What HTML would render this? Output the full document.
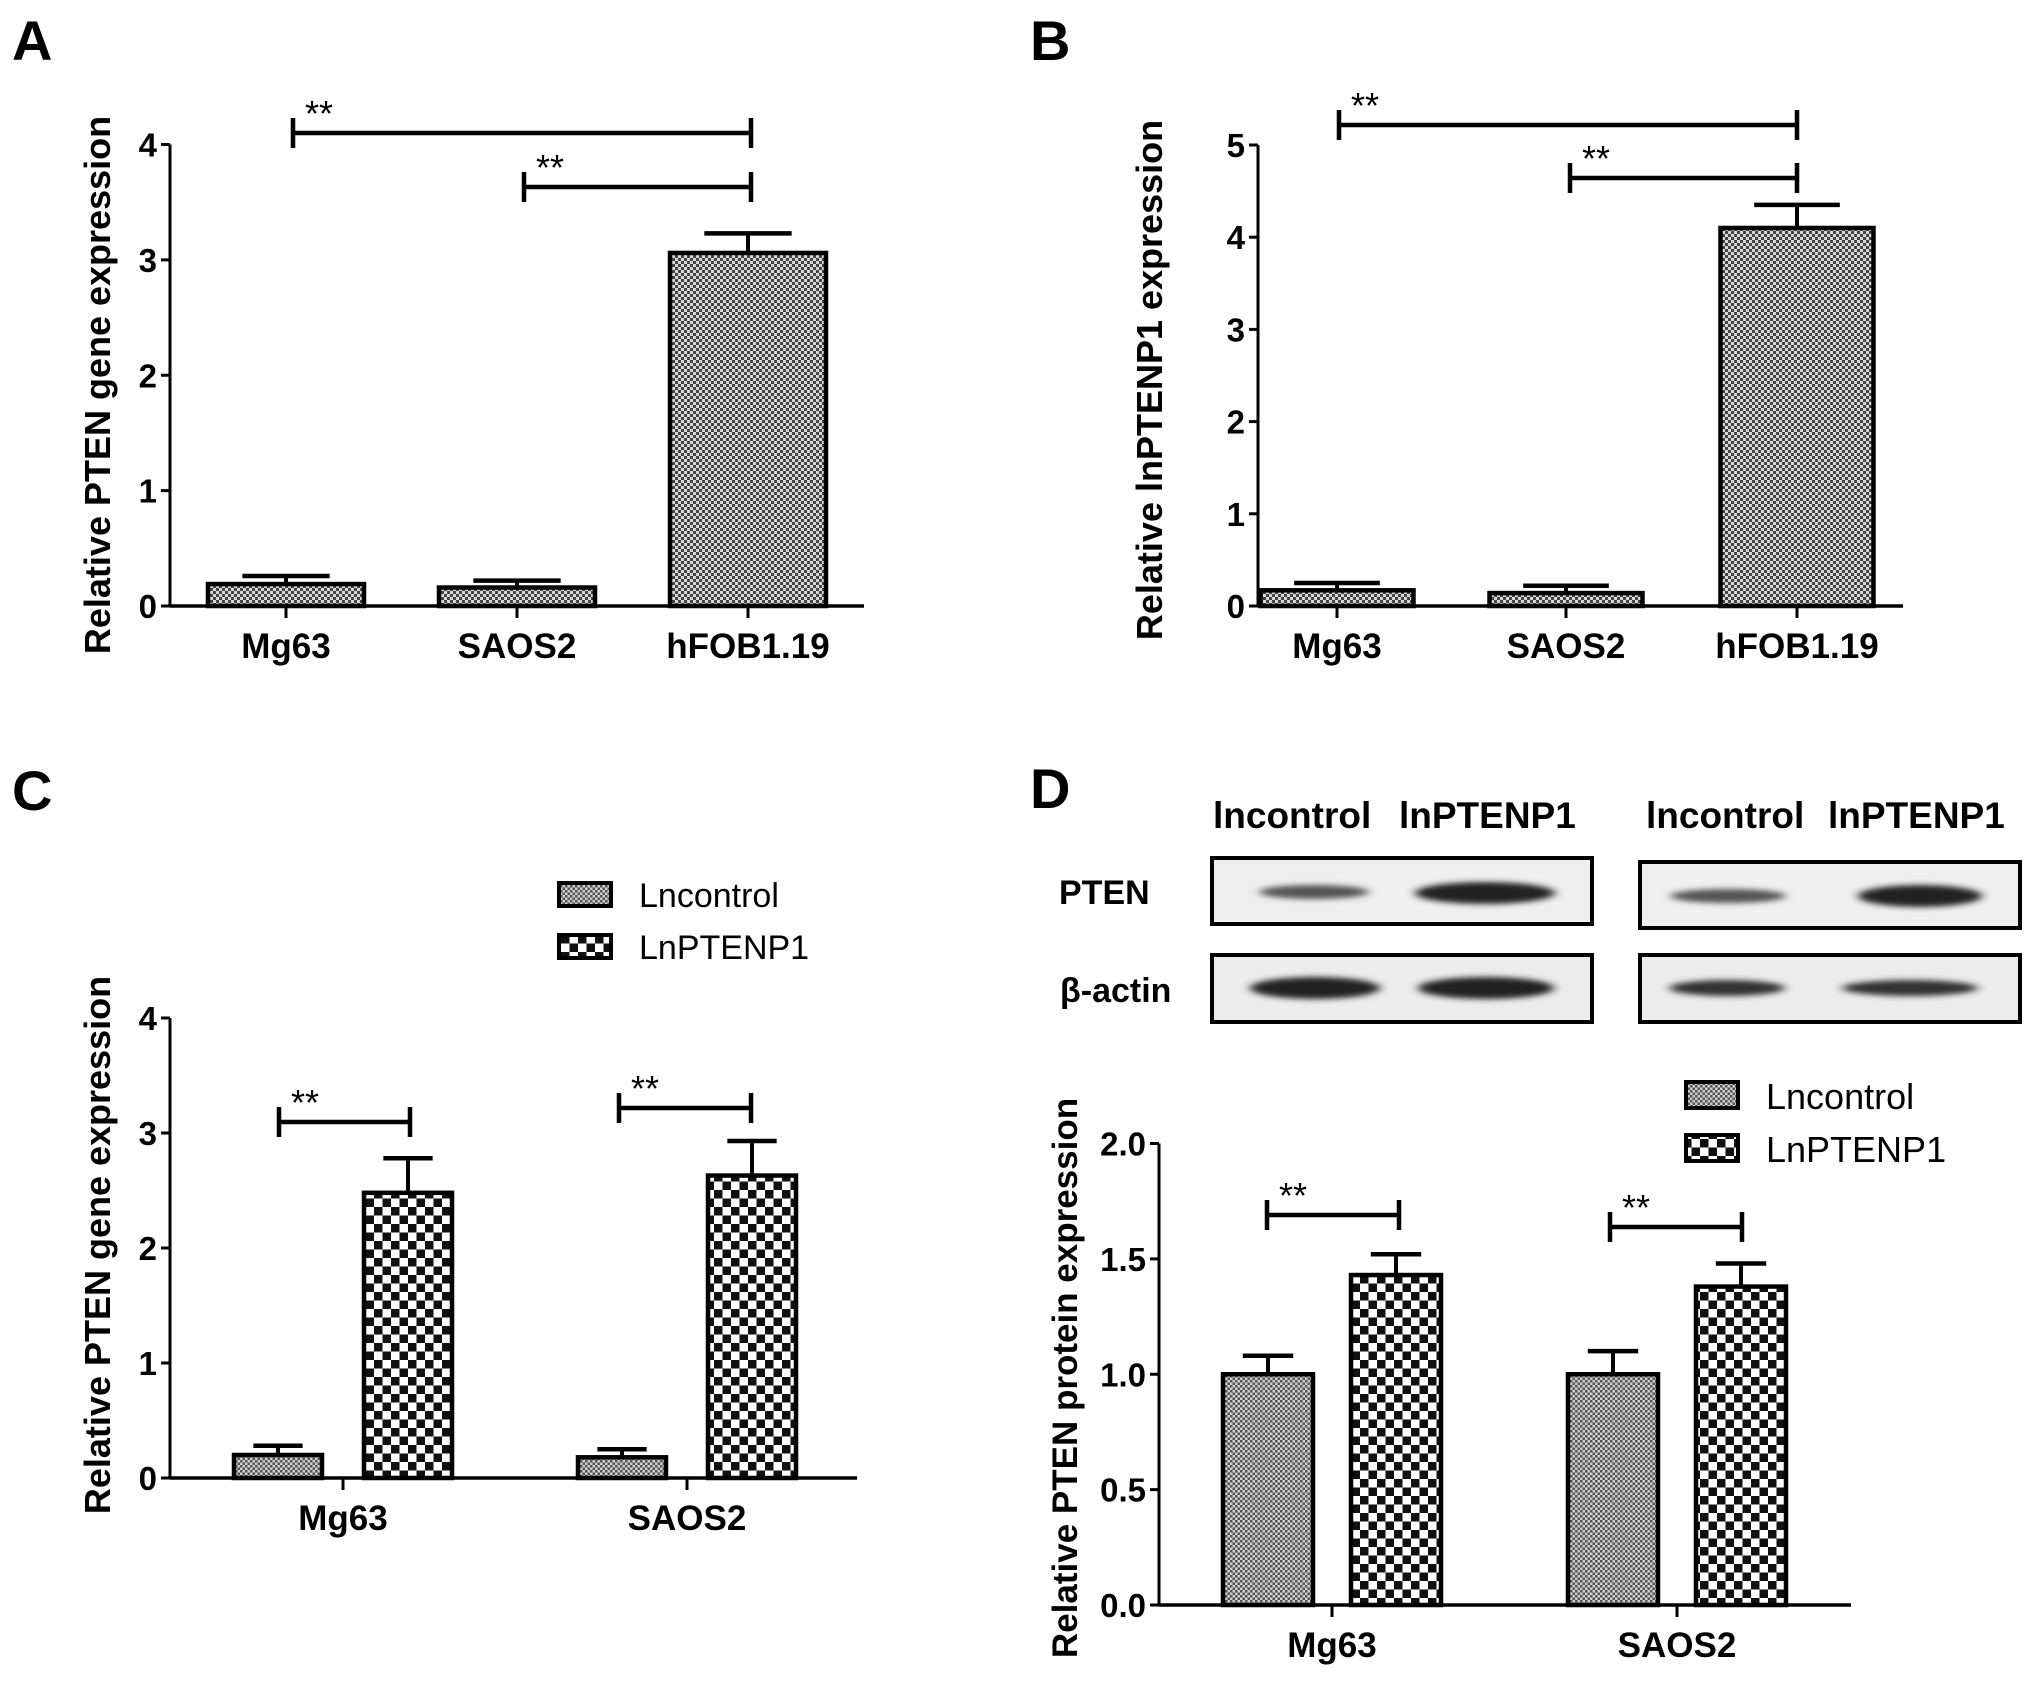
<!DOCTYPE html>
<html><head><meta charset="utf-8"><style>
html,body{margin:0;padding:0;background:#fff;}
svg{display:block;font-family:"Liberation Sans",Arial,sans-serif;}
.b{font-weight:bold;}
</style></head><body>
<svg id="fig" width="2031" height="1683" viewBox="0 0 2031 1683" xmlns="http://www.w3.org/2000/svg">
<defs>
<pattern id="fine" width="6" height="6" patternUnits="userSpaceOnUse">
<rect width="6" height="6" fill="#d8d8d8"/><rect width="3" height="3" fill="#444"/><rect x="3" y="3" width="3" height="3" fill="#444"/>
</pattern>
<pattern id="fine2" width="5" height="5" patternUnits="userSpaceOnUse">
<rect width="5" height="5" fill="#cfcfcf"/><rect width="2.5" height="2.5" fill="#555"/><rect x="2.5" y="2.5" width="2.5" height="2.5" fill="#555"/>
</pattern>
<pattern id="coarse" width="17" height="17" patternUnits="userSpaceOnUse">
<rect width="17" height="17" fill="#fff"/><rect width="8.5" height="8.5" fill="#111"/><rect x="8.5" y="8.5" width="8.5" height="8.5" fill="#111"/>
</pattern>
<filter id="blur"><feGaussianBlur stdDeviation="5 3"/></filter>
</defs>
<g id="panelA"></g>
<g id="panelB"></g>
<g id="panelC"></g>
<g id="panelD"></g>
<g id="blot">
<text x="1213" y="828" class="b" font-size="37">lncontrol</text>
<text x="1399" y="828" class="b" font-size="37">lnPTENP1</text>
<text x="1646" y="828" class="b" font-size="37">lncontrol</text>
<text x="1828" y="828" class="b" font-size="37">lnPTENP1</text>
<text x="1059" y="904" class="b" font-size="34">PTEN</text>
<text x="1060" y="1002" class="b" font-size="34">β-actin</text>
<rect x="1212" y="858" width="380" height="66" fill="#efefef" stroke="#000" stroke-width="4"/>
<rect x="1640" y="862" width="380" height="66" fill="#efefef" stroke="#000" stroke-width="4"/>
<rect x="1212" y="955" width="380" height="67" fill="#ececec" stroke="#000" stroke-width="4"/>
<rect x="1640" y="955" width="380" height="67" fill="#ececec" stroke="#000" stroke-width="4"/>
<g filter="url(#blur)">
<ellipse cx="1314" cy="892" rx="55" ry="7" fill="#555"/>
<ellipse cx="1485" cy="893" rx="70" ry="11" fill="#222"/>
<ellipse cx="1728" cy="896" rx="58" ry="7" fill="#555"/>
<ellipse cx="1920" cy="896" rx="62" ry="11" fill="#222"/>
<ellipse cx="1315" cy="988" rx="65" ry="11" fill="#222"/>
<ellipse cx="1486" cy="988" rx="68" ry="11" fill="#222"/>
<ellipse cx="1727" cy="988" rx="58" ry="8" fill="#333"/>
<ellipse cx="1910" cy="988" rx="68" ry="8" fill="#333"/>
</g>
</g>
</svg>
<script>
// Panel A data
const catsA = ["Mg63","SAOS2","hFOB1.19"];
const valsA = [0.19, 0.16, 3.06];
const errA = [0.07, 0.06, 0.17];
const ticksA = [0,1,2,3,4];
// Panel B data
const catsB = ["Mg63","SAOS2","hFOB1.19"];
const valsB = [0.17, 0.14, 4.1];
const errB = [0.08, 0.08, 0.25];
const ticksB = [0,1,2,3,4,5];
// Panel C data
const catsC = ["Mg63","SAOS2"];
const ctrlC = [0.2, 0.18];
const ctrlErrC = [0.08, 0.07];
const lnC = [2.48, 2.63];
const lnErrC = [0.3, 0.3];
const ticksC = [0,1,2,3,4];
// Panel D data
const catsD = ["Mg63","SAOS2"];
const ctrlD = [1.0, 1.0];
const ctrlErrD = [0.08, 0.10];
const lnD = [1.43, 1.38];
const lnErrD = [0.09, 0.10];
const ticksD = ["0.0","0.5","1.0","1.5","2.0"];
const legendLabels = ["Lncontrol","LnPTENP1"];

const NS="http://www.w3.org/2000/svg";
function mk(parent,tag,attrs,text){const e=document.createElementNS(NS,tag);for(const k in attrs)e.setAttribute(k,attrs[k]);if(text!==undefined)e.textContent=text;parent.appendChild(e);return e;}

function axes(g,cfg){
  const y=v=>cfg.y0-(v-cfg.min)/(cfg.max-cfg.min)*(cfg.y0-cfg.yTop);
  const ax=mk(g,'line',{x1:cfg.ax,y1:cfg.yTop,x2:cfg.ax,y2:cfg.y0,stroke:'#000','stroke-width':3});
  
  
  const xa=mk(g,'line',{x1:cfg.ax,y1:cfg.y0,x2:cfg.xEnd,y2:cfg.y0,stroke:'#000','stroke-width':3.5});
  
  
  cfg.ticks.forEach(t=>{
    const v=parseFloat(t),yy=y(v);
    mk(g,'line',{x1:cfg.ax-9,y1:yy,x2:cfg.ax,y2:yy,stroke:'#000','stroke-width':3});
    const tl=mk(g,'text',{x:cfg.ax-13,y:yy+12,'text-anchor':'end','font-size':33,class:'b'},String(t));
    
    
  });
  const tt=mk(g,'text',{x:0,y:0,transform:`translate(${cfg.titleX},${cfg.titleY}) rotate(-90)`,'text-anchor':'middle','font-size':cfg.titleSize||36,class:'b'},cfg.title);
  
  
  const L=mk(g,'text',{x:cfg.letter[0],y:cfg.letter[1],'font-size':56,class:'b'},cfg.letterText);
  
  
  return y;
}
function bar(g,y,cx,w,v,e,fill,name){
  const b=mk(g,'rect',{x:cx-w/2,y:y(v),width:w,height:y(0)-y(v),fill:fill,stroke:'#000','stroke-width':4.5});
  
  
  mk(g,'line',{x1:cx,y1:y(v),x2:cx,y2:y(v+e),stroke:'#000','stroke-width':4});
  const eb=mk(g,'line',{x1:cx-w*0.28,y1:y(v+e),x2:cx+w*0.28,y2:y(v+e),stroke:'#000','stroke-width':4.5});
  
  
}
function sig(g,x1,x2,yy,name){
  const s=mk(g,'path',{d:`M${x1},${yy-15}V${yy+15}M${x1},${yy}H${x2}M${x2},${yy-15}V${yy+15}`,stroke:'#000','stroke-width':4.5,fill:'none'});
  
  
  const t=mk(g,'text',{x:x1+12,y:yy-7,'font-size':36},'**');
  
  
}
function catLabel(g,x,yy,s,size){
  mk(g,'line',{x1:x,y1:yy-25,x2:x,y2:yy-13,stroke:'#000','stroke-width':3});
  const t=mk(g,'text',{x:x,y:yy+27,'text-anchor':'middle','font-size':size||35,class:'b'},s);
  
  
}
function legend(g,x,y1,y2,w,h,tx,size){
  [[y1,'url(#fine2)'],[y2,'url(#coarse)']].forEach((p,i)=>{
    const r=mk(g,'rect',{x:x,y:p[0],width:w,height:h,fill:p[1],stroke:'#000','stroke-width':4});
    
    
    const t=mk(g,'text',{x:tx,y:p[0]+h+1,'font-size':size},legendLabels[i]);
    
    
  });
}

// Panel A
(function(){
  const g=document.getElementById('panelA');
  const y=axes(g,{ax:170,y0:606,yTop:144.5,min:0,max:4,xEnd:864,ticks:ticksA,title:'Relative PTEN gene expression',titleX:110,titleY:385,letter:[12,60],letterText:'A'});
  const cx=[286,517,748];
  catsA.forEach((c,i)=>{bar(g,y,cx[i],156,valsA[i],errA[i],'url(#fine)','bar-a-'+c.toLowerCase());catLabel(g,cx[i],631,c);});
  sig(g,293,751,133,'sig-a-mg63');
  sig(g,524,751,187,'sig-a-saos2');
})();
// Panel B
(function(){
  const g=document.getElementById('panelB');
  const y=axes(g,{ax:1258,y0:606,yTop:145,min:0,max:5,xEnd:1903,ticks:ticksB,title:'Relative lnPTENP1 expression',titleX:1162,titleY:380,letter:[1030,60],letterText:'B'});
  const cx=[1337,1566,1797];
  catsB.forEach((c,i)=>{bar(g,y,cx[i],153,valsB[i],errB[i],'url(#fine)','bar-b-'+c.toLowerCase());catLabel(g,cx[i],631,c);});
  sig(g,1339,1797,125,'sig-b-mg63');
  sig(g,1570,1797,178,'sig-b-saos2');
})();
// Panel C
(function(){
  const g=document.getElementById('panelC');
  const y=axes(g,{ax:170,y0:1478,yTop:1018,min:0,max:4,xEnd:857,ticks:ticksC,title:'Relative PTEN gene expression',titleX:110,titleY:1245,letter:[12,810],letterText:'C'});
  const cx=[343,687];
  catsC.forEach((c,i)=>{
    bar(g,y,cx[i]-65,88,ctrlC[i],ctrlErrC[i],'url(#fine2)','bar-c-'+c.toLowerCase()+'-lncontrol');
    bar(g,y,cx[i]+65,88,lnC[i],lnErrC[i],'url(#coarse)','bar-c-'+c.toLowerCase()+'-lnptenp1');
    catLabel(g,cx[i],1503,c);
  });
  sig(g,279,410,1122,'sig-c-mg63');
  sig(g,619,751,1108,'sig-c-saos2');
  legend(g,559,883,935,52,23,639,34);
})();
// Panel D
(function(){
  const g=document.getElementById('panelD');
  const y=axes(g,{ax:1159,y0:1605,yTop:1143.5,min:0,max:2,xEnd:1851,ticks:ticksD,title:'Relative PTEN protein expression',titleX:1077,titleY:1378,titleSize:35,letter:[1030,808],letterText:'D'});
  const cx=[1332,1677];
  catsD.forEach((c,i)=>{
    bar(g,y,cx[i]-64,90,ctrlD[i],ctrlErrD[i],'url(#fine2)','bar-d-'+c.toLowerCase()+'-lncontrol');
    bar(g,y,cx[i]+64,90,lnD[i],lnErrD[i],'url(#coarse)','bar-d-'+c.toLowerCase()+'-lnptenp1');
    catLabel(g,cx[i],1630,c);
  });
  sig(g,1267,1399,1215,'sig-d-mg63');
  sig(g,1610,1742,1227,'sig-d-saos2');
  legend(g,1686,1082,1135,52,26,1766,36);
})();
</script>
</body></html>
